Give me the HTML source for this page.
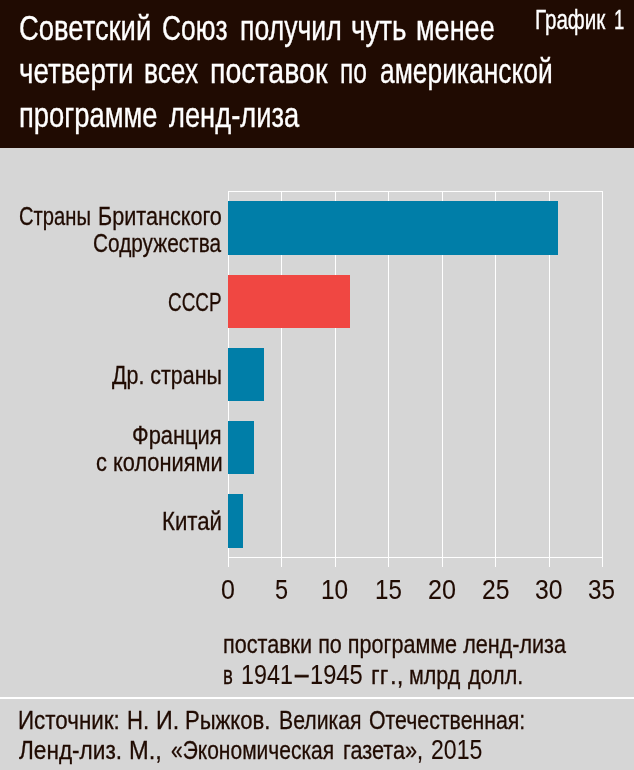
<!DOCTYPE html>
<html lang="ru"><head><meta charset="utf-8"><title>График 1</title>
<style>
html,body{margin:0;padding:0}
body{width:634px;height:770px;position:relative;overflow:hidden;background:#d6d6d6;font-family:"Liberation Sans",sans-serif}
.hd{position:absolute;left:0;top:0;width:634px;height:147.5px;background:#200b02}
.t{position:absolute;white-space:nowrap;line-height:normal;transform-origin:0 0}
.v{position:absolute;width:1px;background:#fff;top:191px;height:375.5px}
.h{position:absolute;height:1px;background:#fff;left:228px;width:375px}
.b{position:absolute;left:228px}
.wl{position:absolute;left:0;top:696.7px;width:634px;height:2.2px;background:#fff}
</style></head><body>
<div class="hd"></div>
<div class="h" style="top:191px"></div>
<div class="h" style="top:557px"></div>
<div class="v" style="left:228px"></div>
<div class="v" style="left:281px"></div>
<div class="v" style="left:335px"></div>
<div class="v" style="left:388px"></div>
<div class="v" style="left:442px"></div>
<div class="v" style="left:495px"></div>
<div class="v" style="left:549px"></div>
<div class="v" style="left:602px"></div>
<div class="b" style="top:201px;height:54px;width:330px;background:#007ea8"></div>
<div class="b" style="top:275px;height:53px;width:122px;background:#f04742"></div>
<div class="b" style="top:348px;height:53px;width:36px;background:#007ea8"></div>
<div class="b" style="top:421px;height:53px;width:26px;background:#007ea8"></div>
<div class="b" style="top:494px;height:54px;width:15px;background:#007ea8"></div>
<div class="wl"></div>
<div class="t" style="left:19.40px;top:7.86px;font-size:35.4px;color:#fff;-webkit-text-stroke:0.35px #fff;transform:scaleX(0.7746)">Советский</div>
<div class="t" style="left:162.32px;top:7.86px;font-size:35.4px;color:#fff;-webkit-text-stroke:0.35px #fff;transform:scaleX(0.7447)">Союз</div>
<div class="t" style="left:239.66px;top:7.86px;font-size:35.4px;color:#fff;-webkit-text-stroke:0.35px #fff;transform:scaleX(0.7520)">получил</div>
<div class="t" style="left:350.51px;top:7.86px;font-size:35.4px;color:#fff;-webkit-text-stroke:0.35px #fff;transform:scaleX(0.7848)">чуть</div>
<div class="t" style="left:416.14px;top:7.86px;font-size:35.4px;color:#fff;-webkit-text-stroke:0.35px #fff;transform:scaleX(0.7648)">менее</div>
<div class="t" style="left:19.31px;top:51.21px;font-size:35.4px;color:#fff;-webkit-text-stroke:0.35px #fff;transform:scaleX(0.7836)">четверти</div>
<div class="t" style="left:143.57px;top:51.21px;font-size:35.4px;color:#fff;-webkit-text-stroke:0.35px #fff;transform:scaleX(0.7433)">всех</div>
<div class="t" style="left:209.57px;top:51.21px;font-size:35.4px;color:#fff;-webkit-text-stroke:0.35px #fff;transform:scaleX(0.8065)">поставок</div>
<div class="t" style="left:339.85px;top:51.21px;font-size:35.4px;color:#fff;-webkit-text-stroke:0.35px #fff;transform:scaleX(0.6944)">по</div>
<div class="t" style="left:379.52px;top:51.21px;font-size:35.4px;color:#fff;-webkit-text-stroke:0.35px #fff;transform:scaleX(0.7452)">американской</div>
<div class="t" style="left:18.72px;top:94.56px;font-size:35.4px;color:#fff;-webkit-text-stroke:0.35px #fff;transform:scaleX(0.7733)">программе</div>
<div class="t" style="left:168.57px;top:94.56px;font-size:35.4px;color:#fff;-webkit-text-stroke:0.35px #fff;transform:scaleX(0.7715)">ленд-лиза</div>
<div class="t" style="left:534.61px;top:3.72px;font-size:27.6px;color:#fff;-webkit-text-stroke:0.4px #fff;transform:scaleX(0.7457)">График</div>
<div class="t" style="left:613.52px;top:3.72px;font-size:27.6px;color:#fff;-webkit-text-stroke:0.4px #fff;transform:scaleX(0.6719)">1</div>
<div class="t" style="left:18.96px;top:200.80px;font-size:26.3px;color:#200b02;-webkit-text-stroke:0.3px #200b02;transform:scaleX(0.7673)">Страны</div>
<div class="t" style="left:97.90px;top:200.80px;font-size:26.3px;color:#200b02;-webkit-text-stroke:0.3px #200b02;transform:scaleX(0.8220)">Британского</div>
<div class="t" style="left:92.95px;top:227.90px;font-size:26.3px;color:#200b02;-webkit-text-stroke:0.3px #200b02;transform:scaleX(0.7909)">Содружества</div>
<div class="t" style="left:168.00px;top:286.73px;font-size:26.6px;color:#200b02;-webkit-text-stroke:0.3px #200b02;transform:scaleX(0.7101)">СССР</div>
<div class="t" style="left:111.74px;top:360.00px;font-size:26.3px;color:#200b02;-webkit-text-stroke:0.3px #200b02;transform:scaleX(0.8149)">Др. страны</div>
<div class="t" style="left:132.42px;top:419.80px;font-size:26.3px;color:#200b02;-webkit-text-stroke:0.3px #200b02;transform:scaleX(0.8321)">Франция</div>
<div class="t" style="left:95.82px;top:446.80px;font-size:26.3px;color:#200b02;-webkit-text-stroke:0.3px #200b02;transform:scaleX(0.8288)">с колониями</div>
<div class="t" style="left:162.36px;top:506.10px;font-size:26.3px;color:#200b02;-webkit-text-stroke:0.3px #200b02;transform:scaleX(0.8443)">Китай</div>
<div class="t" style="left:221.28px;top:574.31px;font-size:27.5px;color:#200b02;-webkit-text-stroke:0.1px #200b02;transform:scaleX(0.9085)">0</div>
<div class="t" style="left:275.13px;top:574.31px;font-size:27.5px;color:#200b02;-webkit-text-stroke:0.1px #200b02;transform:scaleX(0.8521)">5</div>
<div class="t" style="left:321.11px;top:574.31px;font-size:27.5px;color:#200b02;-webkit-text-stroke:0.1px #200b02;transform:scaleX(0.8879)">10</div>
<div class="t" style="left:374.83px;top:574.31px;font-size:27.5px;color:#200b02;-webkit-text-stroke:0.1px #200b02;transform:scaleX(0.8774)">15</div>
<div class="t" style="left:427.78px;top:574.31px;font-size:27.5px;color:#200b02;-webkit-text-stroke:0.1px #200b02;transform:scaleX(0.9154)">20</div>
<div class="t" style="left:481.69px;top:574.31px;font-size:27.5px;color:#200b02;-webkit-text-stroke:0.1px #200b02;transform:scaleX(0.8985)">25</div>
<div class="t" style="left:535.19px;top:574.31px;font-size:27.5px;color:#200b02;-webkit-text-stroke:0.1px #200b02;transform:scaleX(0.8985)">30</div>
<div class="t" style="left:588.41px;top:574.31px;font-size:27.5px;color:#200b02;-webkit-text-stroke:0.1px #200b02;transform:scaleX(0.8815)">35</div>
<div class="t" style="left:222.93px;top:629.10px;font-size:26.3px;color:#200b02;-webkit-text-stroke:0.3px #200b02;transform:scaleX(0.8211)">поставки по программе ленд-лиза</div>
<div class="t" style="left:223.01px;top:659.70px;font-size:26.3px;color:#200b02;-webkit-text-stroke:0.3px #200b02;transform:scaleX(0.7063)">в</div>
<div class="t" style="left:240.78px;top:658.79px;font-size:27.3px;color:#200b02;-webkit-text-stroke:0.1px #200b02;transform:scaleX(0.8538)">1941</div>
<div class="t" style="left:295.30px;top:657.78px;font-size:27.31px;color:#200b02;-webkit-text-stroke:0.8px #200b02;transform:scaleX(0.8750)">–</div>
<div class="t" style="left:310.35px;top:658.79px;font-size:27.3px;color:#200b02;-webkit-text-stroke:0.1px #200b02;transform:scaleX(0.8665)">1945</div>
<div class="t" style="left:371.48px;top:659.70px;font-size:26.3px;color:#200b02;-webkit-text-stroke:0.3px #200b02;transform:scaleX(0.9000)">гг</div>
<div class="t" style="left:389.94px;top:659.70px;font-size:26.3px;color:#200b02;-webkit-text-stroke:0.3px #200b02;transform:scaleX(0.9169)">.,</div>
<div class="t" style="left:409.23px;top:659.70px;font-size:26.3px;color:#200b02;-webkit-text-stroke:0.3px #200b02;transform:scaleX(0.8188)">млрд</div>
<div class="t" style="left:467.55px;top:659.70px;font-size:26.3px;color:#200b02;-webkit-text-stroke:0.3px #200b02;transform:scaleX(0.8207)">долл.</div>
<div class="t" style="left:18.45px;top:705.40px;font-size:26.3px;color:#200b02;-webkit-text-stroke:0.3px #200b02;transform:scaleX(0.8510)">Источник:</div>
<div class="t" style="left:127.27px;top:705.40px;font-size:26.3px;color:#200b02;-webkit-text-stroke:0.3px #200b02;transform:scaleX(0.8411)">Н.</div>
<div class="t" style="left:155.60px;top:705.40px;font-size:26.3px;color:#200b02;-webkit-text-stroke:0.3px #200b02;transform:scaleX(0.8844)">И.</div>
<div class="t" style="left:185.07px;top:705.40px;font-size:26.3px;color:#200b02;-webkit-text-stroke:0.3px #200b02;transform:scaleX(0.8396)">Рыжков.</div>
<div class="t" style="left:278.53px;top:705.40px;font-size:26.3px;color:#200b02;-webkit-text-stroke:0.3px #200b02;transform:scaleX(0.8070)">Великая</div>
<div class="t" style="left:368.83px;top:705.40px;font-size:26.3px;color:#200b02;-webkit-text-stroke:0.3px #200b02;transform:scaleX(0.8098)">Отечественная:</div>
<div class="t" style="left:19.36px;top:735.20px;font-size:26.3px;color:#200b02;-webkit-text-stroke:0.3px #200b02;transform:scaleX(0.8596)">Ленд-лиз.</div>
<div class="t" style="left:129.30px;top:735.20px;font-size:26.3px;color:#200b02;-webkit-text-stroke:0.3px #200b02;transform:scaleX(0.9000)">М.,</div>
<div class="t" style="left:170.84px;top:735.20px;font-size:26.3px;color:#200b02;-webkit-text-stroke:0.3px #200b02;transform:scaleX(0.7984)">«Экономическая</div>
<div class="t" style="left:342.92px;top:735.20px;font-size:26.3px;color:#200b02;-webkit-text-stroke:0.3px #200b02;transform:scaleX(0.8237)">газета»,</div>
<div class="t" style="left:431.34px;top:734.29px;font-size:27.3px;color:#200b02;-webkit-text-stroke:0.1px #200b02;transform:scaleX(0.8453)">2015</div>
</body></html>
